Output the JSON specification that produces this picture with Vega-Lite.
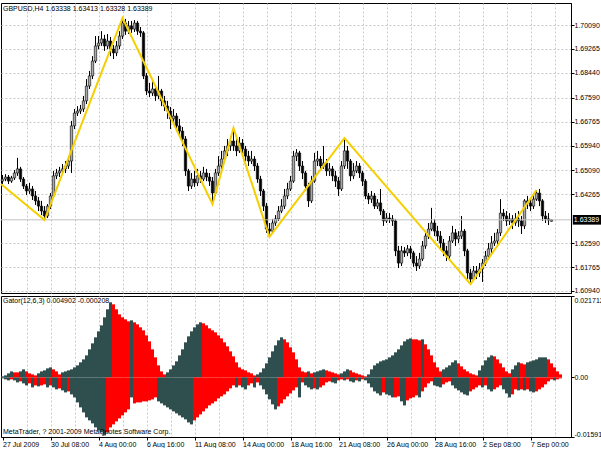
{
"$schema": "https://vega.github.io/schema/vega-lite/v6.json",
"padding": {"left": -4, "top": 2, "right": 0, "bottom": 0},
"background": "white",
"config": {
  "font": "Liberation Sans",
  "axis": {"labelFont": "Liberation Sans", "labelFontSize": 7, "labelColor": "#000", "tickColor": "#000", "domainColor": "#000", "gridColor": "#c8c8c8", "gridDash": [2, 2], "gridWidth": 1, "title": null, "labelOverlap": false},
  "view": {"stroke": "#000", "strokeWidth": 1},
  "concat": {"spacing": 0}
},
"datasets": {
  "candles": [
{"i":0,"o":1.6472,"h":1.6493,"l":1.6462,"c":1.6479},
{"i":1,"o":1.6479,"h":1.6496,"l":1.6472,"c":1.6486},
{"i":2,"o":1.6486,"h":1.6493,"l":1.6462,"c":1.6472},
{"i":3,"o":1.6472,"h":1.6490,"l":1.6466,"c":1.6483},
{"i":4,"o":1.6483,"h":1.6510,"l":1.6476,"c":1.6500},
{"i":5,"o":1.6500,"h":1.6552,"l":1.6490,"c":1.6514},
{"i":6,"o":1.6514,"h":1.6521,"l":1.6469,"c":1.6479},
{"i":7,"o":1.6479,"h":1.6486,"l":1.6445,"c":1.6455},
{"i":8,"o":1.6455,"h":1.6462,"l":1.6424,"c":1.6438},
{"i":9,"o":1.6438,"h":1.6466,"l":1.6428,"c":1.6445},
{"i":10,"o":1.6445,"h":1.6455,"l":1.6407,"c":1.6421},
{"i":11,"o":1.6421,"h":1.6438,"l":1.6390,"c":1.6404},
{"i":12,"o":1.6404,"h":1.6417,"l":1.6369,"c":1.6386},
{"i":13,"o":1.6386,"h":1.6404,"l":1.6355,"c":1.6369},
{"i":14,"o":1.6369,"h":1.6386,"l":1.6338,"c":1.6352},
{"i":15,"o":1.6352,"h":1.6393,"l":1.6345,"c":1.6386},
{"i":16,"o":1.6386,"h":1.6431,"l":1.6376,"c":1.6421},
{"i":17,"o":1.6421,"h":1.6507,"l":1.6414,"c":1.6490},
{"i":18,"o":1.6490,"h":1.6514,"l":1.6479,"c":1.6500},
{"i":19,"o":1.6500,"h":1.6521,"l":1.6486,"c":1.6507},
{"i":20,"o":1.6507,"h":1.6531,"l":1.6496,"c":1.6514},
{"i":21,"o":1.6514,"h":1.6541,"l":1.6500,"c":1.6524},
{"i":22,"o":1.6524,"h":1.6558,"l":1.6514,"c":1.6541},
{"i":23,"o":1.6541,"h":1.6679,"l":1.6500,"c":1.6662},
{"i":24,"o":1.6662,"h":1.6720,"l":1.6651,"c":1.6706},
{"i":25,"o":1.6706,"h":1.6730,"l":1.6696,"c":1.6713},
{"i":26,"o":1.6713,"h":1.6734,"l":1.6703,"c":1.6720},
{"i":27,"o":1.6720,"h":1.6765,"l":1.6710,"c":1.6748},
{"i":28,"o":1.6748,"h":1.6823,"l":1.6737,"c":1.6799},
{"i":29,"o":1.6799,"h":1.6851,"l":1.6789,"c":1.6834},
{"i":30,"o":1.6834,"h":1.6902,"l":1.6823,"c":1.6885},
{"i":31,"o":1.6885,"h":1.6971,"l":1.6878,"c":1.6937},
{"i":32,"o":1.6937,"h":1.6971,"l":1.6926,"c":1.6947},
{"i":33,"o":1.6947,"h":1.6988,"l":1.6937,"c":1.6961},
{"i":34,"o":1.6961,"h":1.6975,"l":1.6920,"c":1.6937},
{"i":35,"o":1.6937,"h":1.6978,"l":1.6926,"c":1.6954},
{"i":36,"o":1.6954,"h":1.6968,"l":1.6902,"c":1.6926},
{"i":37,"o":1.6926,"h":1.6940,"l":1.6892,"c":1.6913},
{"i":38,"o":1.6913,"h":1.6954,"l":1.6902,"c":1.6937},
{"i":39,"o":1.6937,"h":1.6988,"l":1.6926,"c":1.6971},
{"i":40,"o":1.6971,"h":1.7033,"l":1.6961,"c":1.7016},
{"i":41,"o":1.7016,"h":1.7030,"l":1.6975,"c":1.6988},
{"i":42,"o":1.6988,"h":1.7023,"l":1.6978,"c":1.7006},
{"i":43,"o":1.7006,"h":1.7023,"l":1.6982,"c":1.6995},
{"i":44,"o":1.6995,"h":1.7026,"l":1.6985,"c":1.7016},
{"i":45,"o":1.7016,"h":1.7023,"l":1.6975,"c":1.6988},
{"i":46,"o":1.6988,"h":1.7002,"l":1.6968,"c":1.6982},
{"i":47,"o":1.6982,"h":1.6988,"l":1.6823,"c":1.6834},
{"i":48,"o":1.6834,"h":1.6844,"l":1.6768,"c":1.6782},
{"i":49,"o":1.6782,"h":1.6810,"l":1.6761,"c":1.6775},
{"i":50,"o":1.6775,"h":1.6816,"l":1.6765,"c":1.6789},
{"i":51,"o":1.6789,"h":1.6799,"l":1.6748,"c":1.6765},
{"i":52,"o":1.6765,"h":1.6834,"l":1.6754,"c":1.6782},
{"i":53,"o":1.6782,"h":1.6789,"l":1.6730,"c":1.6748},
{"i":54,"o":1.6748,"h":1.6765,"l":1.6713,"c":1.6730},
{"i":55,"o":1.6730,"h":1.6748,"l":1.6686,"c":1.6713},
{"i":56,"o":1.6713,"h":1.6727,"l":1.6651,"c":1.6686},
{"i":57,"o":1.6686,"h":1.6720,"l":1.6672,"c":1.6696},
{"i":58,"o":1.6696,"h":1.6706,"l":1.6644,"c":1.6662},
{"i":59,"o":1.6662,"h":1.6686,"l":1.6627,"c":1.6644},
{"i":60,"o":1.6644,"h":1.6658,"l":1.6593,"c":1.6617},
{"i":61,"o":1.6617,"h":1.6627,"l":1.6490,"c":1.6507},
{"i":62,"o":1.6507,"h":1.6514,"l":1.6438,"c":1.6455},
{"i":63,"o":1.6455,"h":1.6500,"l":1.6445,"c":1.6479},
{"i":64,"o":1.6479,"h":1.6507,"l":1.6452,"c":1.6466},
{"i":65,"o":1.6466,"h":1.6514,"l":1.6455,"c":1.6490},
{"i":66,"o":1.6490,"h":1.6507,"l":1.6466,"c":1.6479},
{"i":67,"o":1.6479,"h":1.6521,"l":1.6472,"c":1.6500},
{"i":68,"o":1.6500,"h":1.6514,"l":1.6472,"c":1.6486},
{"i":69,"o":1.6486,"h":1.6500,"l":1.6455,"c":1.6472},
{"i":70,"o":1.6472,"h":1.6486,"l":1.6393,"c":1.6431},
{"i":71,"o":1.6431,"h":1.6514,"l":1.6421,"c":1.6500},
{"i":72,"o":1.6500,"h":1.6558,"l":1.6490,"c":1.6524},
{"i":73,"o":1.6524,"h":1.6576,"l":1.6514,"c":1.6548},
{"i":74,"o":1.6548,"h":1.6593,"l":1.6534,"c":1.6576},
{"i":75,"o":1.6576,"h":1.6617,"l":1.6558,"c":1.6593},
{"i":76,"o":1.6593,"h":1.6627,"l":1.6576,"c":1.6610},
{"i":77,"o":1.6610,"h":1.6655,"l":1.6576,"c":1.6593},
{"i":78,"o":1.6593,"h":1.6617,"l":1.6558,"c":1.6576},
{"i":79,"o":1.6576,"h":1.6624,"l":1.6569,"c":1.6603},
{"i":80,"o":1.6603,"h":1.6617,"l":1.6569,"c":1.6582},
{"i":81,"o":1.6582,"h":1.6593,"l":1.6541,"c":1.6558},
{"i":82,"o":1.6558,"h":1.6576,"l":1.6524,"c":1.6541},
{"i":83,"o":1.6541,"h":1.6576,"l":1.6531,"c":1.6548},
{"i":84,"o":1.6548,"h":1.6558,"l":1.6507,"c":1.6524},
{"i":85,"o":1.6524,"h":1.6534,"l":1.6466,"c":1.6479},
{"i":86,"o":1.6479,"h":1.6490,"l":1.6421,"c":1.6438},
{"i":87,"o":1.6438,"h":1.6445,"l":1.6369,"c":1.6386},
{"i":88,"o":1.6386,"h":1.6397,"l":1.6294,"c":1.6307},
{"i":89,"o":1.6307,"h":1.6328,"l":1.6280,"c":1.6300},
{"i":90,"o":1.6300,"h":1.6342,"l":1.6294,"c":1.6328},
{"i":91,"o":1.6328,"h":1.6355,"l":1.6318,"c":1.6342},
{"i":92,"o":1.6342,"h":1.6386,"l":1.6335,"c":1.6369},
{"i":93,"o":1.6369,"h":1.6410,"l":1.6362,"c":1.6386},
{"i":94,"o":1.6386,"h":1.6445,"l":1.6376,"c":1.6421},
{"i":95,"o":1.6421,"h":1.6466,"l":1.6410,"c":1.6445},
{"i":96,"o":1.6445,"h":1.6490,"l":1.6438,"c":1.6472},
{"i":97,"o":1.6472,"h":1.6576,"l":1.6466,"c":1.6558},
{"i":98,"o":1.6558,"h":1.6582,"l":1.6541,"c":1.6569},
{"i":99,"o":1.6569,"h":1.6576,"l":1.6507,"c":1.6524},
{"i":100,"o":1.6524,"h":1.6541,"l":1.6479,"c":1.6500},
{"i":101,"o":1.6500,"h":1.6507,"l":1.6438,"c":1.6455},
{"i":102,"o":1.6455,"h":1.6466,"l":1.6383,"c":1.6404},
{"i":103,"o":1.6404,"h":1.6490,"l":1.6397,"c":1.6472},
{"i":104,"o":1.6472,"h":1.6569,"l":1.6466,"c":1.6541},
{"i":105,"o":1.6541,"h":1.6576,"l":1.6524,"c":1.6548},
{"i":106,"o":1.6548,"h":1.6558,"l":1.6507,"c":1.6524},
{"i":107,"o":1.6524,"h":1.6593,"l":1.6514,"c":1.6534},
{"i":108,"o":1.6534,"h":1.6548,"l":1.6490,"c":1.6507},
{"i":109,"o":1.6507,"h":1.6534,"l":1.6490,"c":1.6514},
{"i":110,"o":1.6514,"h":1.6524,"l":1.6472,"c":1.6490},
{"i":111,"o":1.6490,"h":1.6507,"l":1.6452,"c":1.6472},
{"i":112,"o":1.6472,"h":1.6486,"l":1.6421,"c":1.6445},
{"i":113,"o":1.6445,"h":1.6541,"l":1.6438,"c":1.6524},
{"i":114,"o":1.6524,"h":1.6620,"l":1.6514,"c":1.6576},
{"i":115,"o":1.6576,"h":1.6593,"l":1.6514,"c":1.6541},
{"i":116,"o":1.6541,"h":1.6548,"l":1.6472,"c":1.6490},
{"i":117,"o":1.6490,"h":1.6534,"l":1.6479,"c":1.6507},
{"i":118,"o":1.6507,"h":1.6541,"l":1.6500,"c":1.6524},
{"i":119,"o":1.6524,"h":1.6534,"l":1.6483,"c":1.6500},
{"i":120,"o":1.6500,"h":1.6507,"l":1.6455,"c":1.6472},
{"i":121,"o":1.6472,"h":1.6479,"l":1.6410,"c":1.6421},
{"i":122,"o":1.6421,"h":1.6431,"l":1.6393,"c":1.6410},
{"i":123,"o":1.6410,"h":1.6438,"l":1.6397,"c":1.6421},
{"i":124,"o":1.6421,"h":1.6431,"l":1.6376,"c":1.6386},
{"i":125,"o":1.6386,"h":1.6410,"l":1.6376,"c":1.6397},
{"i":126,"o":1.6397,"h":1.6445,"l":1.6355,"c":1.6369},
{"i":127,"o":1.6369,"h":1.6376,"l":1.6318,"c":1.6335},
{"i":128,"o":1.6335,"h":1.6362,"l":1.6328,"c":1.6345},
{"i":129,"o":1.6345,"h":1.6362,"l":1.6328,"c":1.6342},
{"i":130,"o":1.6342,"h":1.6355,"l":1.6318,"c":1.6335},
{"i":131,"o":1.6335,"h":1.6342,"l":1.6214,"c":1.6232},
{"i":132,"o":1.6232,"h":1.6249,"l":1.6173,"c":1.6190},
{"i":133,"o":1.6190,"h":1.6249,"l":1.6180,"c":1.6232},
{"i":134,"o":1.6232,"h":1.6245,"l":1.6211,"c":1.6225},
{"i":135,"o":1.6225,"h":1.6252,"l":1.6214,"c":1.6239},
{"i":136,"o":1.6239,"h":1.6249,"l":1.6204,"c":1.6225},
{"i":137,"o":1.6225,"h":1.6232,"l":1.6177,"c":1.6190},
{"i":138,"o":1.6190,"h":1.6214,"l":1.6163,"c":1.6180},
{"i":139,"o":1.6180,"h":1.6225,"l":1.6170,"c":1.6204},
{"i":140,"o":1.6204,"h":1.6266,"l":1.6197,"c":1.6249},
{"i":141,"o":1.6249,"h":1.6300,"l":1.6239,"c":1.6283},
{"i":142,"o":1.6283,"h":1.6328,"l":1.6273,"c":1.6307},
{"i":143,"o":1.6307,"h":1.6380,"l":1.6300,"c":1.6328},
{"i":144,"o":1.6328,"h":1.6342,"l":1.6283,"c":1.6300},
{"i":145,"o":1.6300,"h":1.6318,"l":1.6266,"c":1.6283},
{"i":146,"o":1.6283,"h":1.6300,"l":1.6239,"c":1.6259},
{"i":147,"o":1.6259,"h":1.6273,"l":1.6214,"c":1.6232},
{"i":148,"o":1.6232,"h":1.6249,"l":1.6197,"c":1.6214},
{"i":149,"o":1.6214,"h":1.6283,"l":1.6204,"c":1.6266},
{"i":150,"o":1.6266,"h":1.6318,"l":1.6259,"c":1.6294},
{"i":151,"o":1.6294,"h":1.6307,"l":1.6249,"c":1.6273},
{"i":152,"o":1.6273,"h":1.6300,"l":1.6259,"c":1.6283},
{"i":153,"o":1.6283,"h":1.6352,"l":1.6273,"c":1.6300},
{"i":154,"o":1.6300,"h":1.6307,"l":1.6214,"c":1.6232},
{"i":155,"o":1.6232,"h":1.6239,"l":1.6135,"c":1.6156},
{"i":156,"o":1.6156,"h":1.6170,"l":1.6118,"c":1.6135},
{"i":157,"o":1.6135,"h":1.6180,"l":1.6128,"c":1.6163},
{"i":158,"o":1.6163,"h":1.6180,"l":1.6135,"c":1.6156},
{"i":159,"o":1.6156,"h":1.6190,"l":1.6142,"c":1.6170},
{"i":160,"o":1.6170,"h":1.6204,"l":1.6125,"c":1.6190},
{"i":161,"o":1.6190,"h":1.6232,"l":1.6180,"c":1.6214},
{"i":162,"o":1.6214,"h":1.6259,"l":1.6204,"c":1.6239},
{"i":163,"o":1.6239,"h":1.6283,"l":1.6225,"c":1.6259},
{"i":164,"o":1.6259,"h":1.6294,"l":1.6249,"c":1.6266},
{"i":165,"o":1.6266,"h":1.6307,"l":1.6249,"c":1.6294},
{"i":166,"o":1.6294,"h":1.6410,"l":1.6283,"c":1.6362},
{"i":167,"o":1.6362,"h":1.6376,"l":1.6335,"c":1.6352},
{"i":168,"o":1.6352,"h":1.6369,"l":1.6318,"c":1.6335},
{"i":169,"o":1.6335,"h":1.6362,"l":1.6321,"c":1.6342},
{"i":170,"o":1.6342,"h":1.6355,"l":1.6307,"c":1.6328},
{"i":171,"o":1.6328,"h":1.6362,"l":1.6318,"c":1.6342},
{"i":172,"o":1.6342,"h":1.6369,"l":1.6314,"c":1.6335},
{"i":173,"o":1.6335,"h":1.6352,"l":1.6290,"c":1.6318},
{"i":174,"o":1.6318,"h":1.6410,"l":1.6307,"c":1.6404},
{"i":175,"o":1.6404,"h":1.6421,"l":1.6376,"c":1.6397},
{"i":176,"o":1.6397,"h":1.6410,"l":1.6369,"c":1.6386},
{"i":177,"o":1.6386,"h":1.6431,"l":1.6376,"c":1.6410},
{"i":178,"o":1.6410,"h":1.6441,"l":1.6404,"c":1.6431},
{"i":179,"o":1.6431,"h":1.6445,"l":1.6386,"c":1.6404},
{"i":180,"o":1.6404,"h":1.6410,"l":1.6335,"c":1.6352},
{"i":181,"o":1.6352,"h":1.6369,"l":1.6328,"c":1.6342},
{"i":182,"o":1.6342,"h":1.6362,"l":1.6321,"c":1.6338},
{"i":183,"o":1.63338,"h":1.63413,"l":1.63328,"c":1.63389}
  ],
  "zigzag": [
{"i":-0.5,"p":1.6462},{"i":14,"p":1.6338},{"i":40,"p":1.7033},{"i":70,"p":1.6393},{"i":77,"p":1.6655},{"i":89,"p":1.6280},{"i":114,"p":1.6620},{"i":156,"p":1.6118},{"i":178,"p":1.6441}
  ],
  "gator": [
{"i":0,"u":0.00027,"uc":"g","d":-0.00027,"dc":"g"},
{"i":1,"u":0.00053,"uc":"g","d":-0.00053,"dc":"g"},
{"i":2,"u":0.00107,"uc":"g","d":-0.0008,"dc":"g"},
{"i":3,"u":0.0016,"uc":"g","d":-0.00053,"dc":"r"},
{"i":4,"u":0.00134,"uc":"r","d":-0.0008,"dc":"g"},
{"i":5,"u":0.00134,"uc":"r","d":-0.00134,"dc":"g"},
{"i":6,"u":0.0016,"uc":"g","d":-0.00107,"dc":"r"},
{"i":7,"u":0.00214,"uc":"g","d":-0.0016,"dc":"g"},
{"i":8,"u":0.0016,"uc":"r","d":-0.00214,"dc":"g"},
{"i":9,"u":0.00107,"uc":"r","d":-0.0016,"dc":"r"},
{"i":10,"u":0.0008,"uc":"r","d":-0.00267,"dc":"g"},
{"i":11,"u":0.00053,"uc":"r","d":-0.00214,"dc":"r"},
{"i":12,"u":0.00107,"uc":"g","d":-0.0024,"dc":"g"},
{"i":13,"u":0.0016,"uc":"g","d":-0.00214,"dc":"r"},
{"i":14,"u":0.00187,"uc":"g","d":-0.00187,"dc":"r"},
{"i":15,"u":0.0024,"uc":"g","d":-0.00267,"dc":"g"},
{"i":16,"u":0.00267,"uc":"g","d":-0.00214,"dc":"r"},
{"i":17,"u":0.00214,"uc":"r","d":-0.00267,"dc":"g"},
{"i":18,"u":0.0016,"uc":"r","d":-0.0032,"dc":"g"},
{"i":19,"u":0.0008,"uc":"r","d":-0.00294,"dc":"r"},
{"i":20,"u":0.00134,"uc":"g","d":-0.00347,"dc":"g"},
{"i":21,"u":0.0016,"uc":"g","d":-0.00401,"dc":"g"},
{"i":22,"u":0.00187,"uc":"g","d":-0.00374,"dc":"r"},
{"i":23,"u":0.00214,"uc":"g","d":-0.00454,"dc":"g"},
{"i":24,"u":0.00267,"uc":"g","d":-0.00534,"dc":"g"},
{"i":25,"u":0.0032,"uc":"g","d":-0.00668,"dc":"g"},
{"i":26,"u":0.00401,"uc":"g","d":-0.00801,"dc":"g"},
{"i":27,"u":0.00481,"uc":"g","d":-0.00935,"dc":"g"},
{"i":28,"u":0.00587,"uc":"g","d":-0.01068,"dc":"g"},
{"i":29,"u":0.00748,"uc":"g","d":-0.01148,"dc":"g"},
{"i":30,"u":0.00908,"uc":"g","d":-0.01228,"dc":"g"},
{"i":31,"u":0.01068,"uc":"g","d":-0.01335,"dc":"g"},
{"i":32,"u":0.01228,"uc":"g","d":-0.01415,"dc":"g"},
{"i":33,"u":0.01388,"uc":"g","d":-0.01469,"dc":"g"},
{"i":34,"u":0.01602,"uc":"g","d":-0.01549,"dc":"g"},
{"i":35,"u":0.01816,"uc":"g","d":-0.01469,"dc":"r"},
{"i":36,"u":0.02003,"uc":"g","d":-0.01335,"dc":"r"},
{"i":37,"u":0.01949,"uc":"r","d":-0.01255,"dc":"r"},
{"i":38,"u":0.01816,"uc":"r","d":-0.01175,"dc":"r"},
{"i":39,"u":0.01682,"uc":"r","d":-0.01095,"dc":"r"},
{"i":40,"u":0.01602,"uc":"r","d":-0.01015,"dc":"r"},
{"i":41,"u":0.01549,"uc":"r","d":-0.00935,"dc":"r"},
{"i":42,"u":0.01495,"uc":"r","d":-0.00854,"dc":"r"},
{"i":43,"u":0.01522,"uc":"g","d":-0.00534,"dc":"g"},
{"i":44,"u":0.01469,"uc":"r","d":-0.00694,"dc":"r"},
{"i":45,"u":0.01415,"uc":"r","d":-0.00668,"dc":"r"},
{"i":46,"u":0.01335,"uc":"r","d":-0.00668,"dc":"r"},
{"i":47,"u":0.01255,"uc":"r","d":-0.00641,"dc":"r"},
{"i":48,"u":0.01121,"uc":"r","d":-0.00641,"dc":"r"},
{"i":49,"u":0.00961,"uc":"r","d":-0.00614,"dc":"r"},
{"i":50,"u":0.00748,"uc":"r","d":-0.00587,"dc":"r"},
{"i":51,"u":0.00534,"uc":"r","d":-0.00534,"dc":"r"},
{"i":52,"u":0.0032,"uc":"r","d":-0.00641,"dc":"g"},
{"i":53,"u":0.0016,"uc":"r","d":-0.00694,"dc":"g"},
{"i":54,"u":0.0008,"uc":"r","d":-0.00748,"dc":"g"},
{"i":55,"u":0.00134,"uc":"g","d":-0.00801,"dc":"g"},
{"i":56,"u":0.00214,"uc":"g","d":-0.00854,"dc":"g"},
{"i":57,"u":0.0032,"uc":"g","d":-0.00908,"dc":"g"},
{"i":58,"u":0.00427,"uc":"g","d":-0.00961,"dc":"g"},
{"i":59,"u":0.00587,"uc":"g","d":-0.01015,"dc":"g"},
{"i":60,"u":0.00748,"uc":"g","d":-0.01068,"dc":"g"},
{"i":61,"u":0.00935,"uc":"g","d":-0.01121,"dc":"g"},
{"i":62,"u":0.01095,"uc":"g","d":-0.01202,"dc":"g"},
{"i":63,"u":0.01228,"uc":"g","d":-0.01255,"dc":"g"},
{"i":64,"u":0.01335,"uc":"g","d":-0.01148,"dc":"r"},
{"i":65,"u":0.01415,"uc":"g","d":-0.01068,"dc":"r"},
{"i":66,"u":0.01469,"uc":"g","d":-0.00988,"dc":"r"},
{"i":67,"u":0.01442,"uc":"r","d":-0.00908,"dc":"r"},
{"i":68,"u":0.01388,"uc":"r","d":-0.00828,"dc":"r"},
{"i":69,"u":0.01308,"uc":"r","d":-0.00748,"dc":"r"},
{"i":70,"u":0.01255,"uc":"r","d":-0.00694,"dc":"r"},
{"i":71,"u":0.01202,"uc":"r","d":-0.00641,"dc":"r"},
{"i":72,"u":0.01121,"uc":"r","d":-0.00561,"dc":"r"},
{"i":73,"u":0.01041,"uc":"r","d":-0.00507,"dc":"r"},
{"i":74,"u":0.00935,"uc":"r","d":-0.00454,"dc":"r"},
{"i":75,"u":0.00828,"uc":"r","d":-0.00374,"dc":"r"},
{"i":76,"u":0.00694,"uc":"r","d":-0.00294,"dc":"r"},
{"i":77,"u":0.00561,"uc":"r","d":-0.00214,"dc":"r"},
{"i":78,"u":0.00401,"uc":"r","d":-0.00267,"dc":"g"},
{"i":79,"u":0.00267,"uc":"r","d":-0.00214,"dc":"r"},
{"i":80,"u":0.00214,"uc":"r","d":-0.00267,"dc":"g"},
{"i":81,"u":0.00187,"uc":"r","d":-0.0032,"dc":"g"},
{"i":82,"u":0.00134,"uc":"r","d":-0.00214,"dc":"r"},
{"i":83,"u":0.00107,"uc":"r","d":-0.0016,"dc":"r"},
{"i":84,"u":0.00053,"uc":"r","d":-0.00267,"dc":"g"},
{"i":85,"u":0.0008,"uc":"g","d":-0.00134,"dc":"r"},
{"i":86,"u":0.00134,"uc":"g","d":-0.00214,"dc":"g"},
{"i":87,"u":0.0024,"uc":"g","d":-0.0032,"dc":"g"},
{"i":88,"u":0.00374,"uc":"g","d":-0.00454,"dc":"g"},
{"i":89,"u":0.00534,"uc":"g","d":-0.00587,"dc":"g"},
{"i":90,"u":0.00694,"uc":"g","d":-0.00721,"dc":"g"},
{"i":91,"u":0.00854,"uc":"g","d":-0.00854,"dc":"g"},
{"i":92,"u":0.00988,"uc":"g","d":-0.00774,"dc":"r"},
{"i":93,"u":0.01068,"uc":"g","d":-0.00694,"dc":"r"},
{"i":94,"u":0.01015,"uc":"r","d":-0.00587,"dc":"r"},
{"i":95,"u":0.00935,"uc":"r","d":-0.00507,"dc":"r"},
{"i":96,"u":0.00801,"uc":"r","d":-0.00427,"dc":"r"},
{"i":97,"u":0.00668,"uc":"r","d":-0.00347,"dc":"r"},
{"i":98,"u":0.00481,"uc":"r","d":-0.00267,"dc":"r"},
{"i":99,"u":0.00267,"uc":"r","d":-0.00534,"dc":"g"},
{"i":100,"u":0.0016,"uc":"r","d":-0.00134,"dc":"r"},
{"i":101,"u":0.00134,"uc":"r","d":-0.00214,"dc":"g"},
{"i":102,"u":0.0016,"uc":"g","d":-0.00267,"dc":"g"},
{"i":103,"u":0.00107,"uc":"r","d":-0.0032,"dc":"g"},
{"i":104,"u":0.00134,"uc":"g","d":-0.00294,"dc":"r"},
{"i":105,"u":0.0016,"uc":"g","d":-0.0032,"dc":"g"},
{"i":106,"u":0.00187,"uc":"g","d":-0.00267,"dc":"r"},
{"i":107,"u":0.00214,"uc":"g","d":-0.00214,"dc":"r"},
{"i":108,"u":0.00187,"uc":"r","d":-0.00134,"dc":"r"},
{"i":109,"u":0.0016,"uc":"r","d":-0.00107,"dc":"r"},
{"i":110,"u":0.00134,"uc":"r","d":-0.00134,"dc":"g"},
{"i":111,"u":0.00107,"uc":"r","d":-0.0016,"dc":"g"},
{"i":112,"u":0.0008,"uc":"r","d":-0.0008,"dc":"r"},
{"i":113,"u":0.00107,"uc":"g","d":-0.00053,"dc":"r"},
{"i":114,"u":0.0016,"uc":"g","d":-0.0008,"dc":"g"},
{"i":115,"u":0.00214,"uc":"g","d":-0.00053,"dc":"r"},
{"i":116,"u":0.00187,"uc":"r","d":-0.00107,"dc":"g"},
{"i":117,"u":0.00134,"uc":"r","d":-0.00134,"dc":"g"},
{"i":118,"u":0.00107,"uc":"r","d":-0.0008,"dc":"r"},
{"i":119,"u":0.0008,"uc":"r","d":-0.00107,"dc":"g"},
{"i":120,"u":0.00053,"uc":"r","d":-0.00053,"dc":"r"},
{"i":121,"u":0.00027,"uc":"r","d":-0.0008,"dc":"g"},
{"i":122,"u":0.0008,"uc":"g","d":-0.0016,"dc":"g"},
{"i":123,"u":0.00214,"uc":"g","d":-0.00267,"dc":"g"},
{"i":124,"u":0.0032,"uc":"g","d":-0.00374,"dc":"g"},
{"i":125,"u":0.00374,"uc":"g","d":-0.00427,"dc":"g"},
{"i":126,"u":0.00427,"uc":"g","d":-0.00481,"dc":"g"},
{"i":127,"u":0.00454,"uc":"g","d":-0.00401,"dc":"r"},
{"i":128,"u":0.00481,"uc":"g","d":-0.00454,"dc":"g"},
{"i":129,"u":0.00534,"uc":"g","d":-0.00481,"dc":"g"},
{"i":130,"u":0.00587,"uc":"g","d":-0.00534,"dc":"g"},
{"i":131,"u":0.00668,"uc":"g","d":-0.00534,"dc":"r"},
{"i":132,"u":0.00748,"uc":"g","d":-0.00507,"dc":"r"},
{"i":133,"u":0.00854,"uc":"g","d":-0.00641,"dc":"g"},
{"i":134,"u":0.00961,"uc":"g","d":-0.00748,"dc":"g"},
{"i":135,"u":0.01015,"uc":"g","d":-0.00614,"dc":"r"},
{"i":136,"u":0.01041,"uc":"g","d":-0.00561,"dc":"r"},
{"i":137,"u":0.01015,"uc":"r","d":-0.00534,"dc":"r"},
{"i":138,"u":0.01015,"uc":"r","d":-0.00481,"dc":"r"},
{"i":139,"u":0.00988,"uc":"r","d":-0.00534,"dc":"g"},
{"i":140,"u":0.01015,"uc":"g","d":-0.00374,"dc":"r"},
{"i":141,"u":0.00881,"uc":"r","d":-0.00267,"dc":"r"},
{"i":142,"u":0.00748,"uc":"r","d":-0.0016,"dc":"r"},
{"i":143,"u":0.00587,"uc":"r","d":-0.00107,"dc":"r"},
{"i":144,"u":0.00401,"uc":"r","d":-0.00214,"dc":"g"},
{"i":145,"u":0.00267,"uc":"r","d":-0.0024,"dc":"g"},
{"i":146,"u":0.0016,"uc":"r","d":-0.00267,"dc":"g"},
{"i":147,"u":0.00214,"uc":"g","d":-0.00187,"dc":"r"},
{"i":148,"u":0.00267,"uc":"g","d":-0.00134,"dc":"r"},
{"i":149,"u":0.0032,"uc":"g","d":-0.00107,"dc":"r"},
{"i":150,"u":0.00401,"uc":"g","d":-0.00214,"dc":"g"},
{"i":151,"u":0.00454,"uc":"g","d":-0.00294,"dc":"g"},
{"i":152,"u":0.00374,"uc":"r","d":-0.00347,"dc":"g"},
{"i":153,"u":0.00294,"uc":"r","d":-0.00401,"dc":"g"},
{"i":154,"u":0.00214,"uc":"r","d":-0.00454,"dc":"g"},
{"i":155,"u":0.0016,"uc":"r","d":-0.00481,"dc":"g"},
{"i":156,"u":0.00107,"uc":"r","d":-0.00374,"dc":"r"},
{"i":157,"u":0.0008,"uc":"r","d":-0.0032,"dc":"r"},
{"i":158,"u":0.00053,"uc":"r","d":-0.00267,"dc":"r"},
{"i":159,"u":0.00187,"uc":"g","d":-0.00214,"dc":"r"},
{"i":160,"u":0.0032,"uc":"g","d":-0.00267,"dc":"g"},
{"i":161,"u":0.00454,"uc":"g","d":-0.00214,"dc":"r"},
{"i":162,"u":0.00534,"uc":"g","d":-0.0032,"dc":"g"},
{"i":163,"u":0.00587,"uc":"g","d":-0.00374,"dc":"g"},
{"i":164,"u":0.00561,"uc":"r","d":-0.0032,"dc":"r"},
{"i":165,"u":0.00481,"uc":"r","d":-0.00267,"dc":"r"},
{"i":166,"u":0.00374,"uc":"r","d":-0.00214,"dc":"r"},
{"i":167,"u":0.00267,"uc":"r","d":-0.0032,"dc":"g"},
{"i":168,"u":0.0016,"uc":"r","d":-0.00427,"dc":"g"},
{"i":169,"u":0.00107,"uc":"r","d":-0.00534,"dc":"g"},
{"i":170,"u":0.00214,"uc":"g","d":-0.00454,"dc":"r"},
{"i":171,"u":0.0032,"uc":"g","d":-0.0032,"dc":"r"},
{"i":172,"u":0.00401,"uc":"g","d":-0.00347,"dc":"g"},
{"i":173,"u":0.00374,"uc":"r","d":-0.0032,"dc":"r"},
{"i":174,"u":0.00347,"uc":"r","d":-0.00347,"dc":"g"},
{"i":175,"u":0.00401,"uc":"g","d":-0.0032,"dc":"r"},
{"i":176,"u":0.00427,"uc":"g","d":-0.00374,"dc":"g"},
{"i":177,"u":0.00454,"uc":"g","d":-0.00401,"dc":"g"},
{"i":178,"u":0.00481,"uc":"g","d":-0.00374,"dc":"r"},
{"i":179,"u":0.00534,"uc":"g","d":-0.0032,"dc":"r"},
{"i":180,"u":0.00534,"uc":"g","d":-0.00267,"dc":"r"},
{"i":181,"u":0.00534,"uc":"g","d":-0.00187,"dc":"r"},
{"i":182,"u":0.00481,"uc":"r","d":-0.00107,"dc":"r"},
{"i":183,"u":0.00374,"uc":"r","d":-0.00053,"dc":"r"},
{"i":184,"u":0.00267,"uc":"r","d":-0.0008,"dc":"g"},
{"i":185,"u":0.0016,"uc":"r","d":-0.00053,"dc":"r"},
{"i":186,"u":0.0008,"uc":"r","d":-0.00027,"dc":"r"}
  ]
},
"vconcat": [
  {
    "width": 570,
    "height": 290,
    "resolve": {"axis": {"y": "independent"}},
    "encoding": {
      "x": {"field": "i", "type": "quantitative",
            "scale": {"domain": [-0.5, 189.5], "nice": false, "zero": false, "padding": 0},
            "axis": {"orient": "bottom", "values": [8,16,24,32,40,48,56,64,72,80,88,96,104,112,120,128,136,144,152,160,168,176,184], "grid": true, "labels": false, "ticks": false, "domain": false, "title": null}}
    },
    "layer": [
      {
        "data": {"name": "candles"},
        "mark": {"type": "rule", "color": "#000", "strokeWidth": 1},
        "encoding": {
          "y": {"field": "l", "type": "quantitative",
                "scale": {"domain": [1.60871, 1.70847], "nice": false, "zero": false},
                "axis": {"orient": "right", "values": [1.7009, 1.69265, 1.6844, 1.6759, 1.66765, 1.6594, 1.6509, 1.64265, 1.6259, 1.61765, 1.6094], "format": ".5f", "grid": true, "tickSize": 3, "labelPadding": 0, "labelOverlap": false, "domain": true, "title": null}},
          "y2": {"field": "h"}
        }
      },
      {
        "data": {"name": "candles"},
        "mark": {"type": "bar", "width": 2.4, "stroke": "#000", "strokeWidth": 0.6},
        "encoding": {
          "y": {"field": "o", "type": "quantitative", "axis": null},
          "y2": {"field": "c"},
          "fill": {"condition": {"test": "datum.c > datum.o", "value": "#a8a8a8"}, "value": "#000"}
        }
      },
      {
        "data": {"values": [{"i": -0.5, "p": 1.63389}, {"i": 189.5, "p": 1.63389}]},
        "mark": {"type": "line", "color": "#c0c0c0", "strokeWidth": 1},
        "encoding": {"y": {"field": "p", "type": "quantitative", "axis": null}}
      },
      {
        "data": {"name": "zigzag"},
        "mark": {"type": "line", "color": "#f5d000", "strokeWidth": 2},
        "encoding": {
          "y": {"field": "p", "type": "quantitative", "axis": null}
        }
      },
      {
        "data": {"values": [{"i": 190.1, "i2": 200, "p1": 1.63555, "p2": 1.63223}]},
        "mark": {"type": "rect", "color": "#000", "clip": false},
        "encoding": {
          "x2": {"field": "i2"},
          "y": {"field": "p1", "type": "quantitative", "axis": null},
          "y2": {"field": "p2"}
        }
      },
      {
        "data": {"values": [{"i": 190.1, "p": 1.63389, "t": "1.63389"}]},
        "mark": {"type": "text", "color": "#fff", "align": "left", "baseline": "middle", "dx": 1, "fontSize": 7, "font": "Liberation Sans"},
        "encoding": {
          "y": {"field": "p", "type": "quantitative", "axis": null},
          "text": {"field": "t"}
        }
      },
      {
        "data": {"values": [{"i": -0.5, "p": 1.7064, "t": "GBPUSD,H4  1.63338 1.63413 1.63328 1.63389"}]},
        "mark": {"type": "text", "color": "#000", "align": "left", "baseline": "middle", "dx": 2, "fontSize": 7, "font": "Liberation Sans"},
        "encoding": {
          "y": {"field": "p", "type": "quantitative", "axis": null},
          "text": {"field": "t"}
        }
      }
    ]
  },
  {
    "width": 570,
    "height": 141,
    "resolve": {"axis": {"x": "independent", "y": "independent"}},
    "layer": [
      {
        "data": {"name": "gator"},
        "mark": {"type": "bar", "width": 3},
        "encoding": {
          "x": {"field": "i", "type": "quantitative",
                "scale": {"domain": [-0.5, 189.5], "nice": false, "zero": false, "padding": 0},
                "axis": {"orient": "bottom", "values": [8,16,24,32,40,48,56,64,72,80,88,96,104,112,120,128,136,144,152,160,168,176,184], "grid": true, "labels": false, "ticks": false, "domain": false, "title": null}},
          "y": {"field": "u", "type": "quantitative",
                "scale": {"domain": [-0.01591, 0.021712], "nice": false, "zero": false},
                "axis": {"orient": "right", "values": [0.021712, 0, -0.01591], "labelExpr": "datum.value > 0.01 ? '0.021712' : (datum.value < -0.01 ? '-0.01591' : '0.00')", "labelBaseline": {"condition": [{"test": "datum.value > 0.01", "value": "top"}, {"test": "datum.value < -0.01", "value": "bottom"}], "value": "middle"}, "grid": false, "tickSize": 3, "labelPadding": 0, "title": null}},
          "color": {"field": "uc", "type": "nominal", "scale": {"domain": ["g", "r"], "range": ["#2f4f4f", "#ff0000"]}, "legend": null}
        }
      },
      {
        "data": {"name": "gator"},
        "mark": {"type": "bar", "width": 3},
        "encoding": {
          "x": {"field": "i", "type": "quantitative",
                "axis": {"orient": "bottom", "values": [0,16,32,48,64,80,96,112,128,144,160,176], "labelExpr": "['27 Jul 2009','30 Jul 08:00','4 Aug 00:00','6 Aug 16:00','11 Aug 08:00','14 Aug 00:00','18 Aug 16:00','21 Aug 08:00','26 Aug 00:00','28 Aug 16:00','2 Sep 08:00','7 Sep 00:00'][round(datum.value/16)]", "labelAlign": "left", "labelOverlap": false, "labelFlush": false, "labelBound": false, "grid": false, "tickSize": 3, "labelPadding": 0, "domain": true, "title": null}},
          "y": {"field": "d", "type": "quantitative", "axis": null},
          "color": {"field": "dc", "type": "nominal", "legend": null}
        }
      },
      {
        "data": {"values": [{"i": -0.5, "v": 0.02038, "t": "Gator(12,6,3) 0.004902 -0.000208"}, {"i": -0.5, "v": -0.01457, "t": "MetaTrader, ? 2001-2009 MetaQuotes Software Corp."}]},
        "mark": {"type": "text", "color": "#000", "align": "left", "baseline": "middle", "dx": 2, "fontSize": 7, "font": "Liberation Sans"},
        "encoding": {
          "x": {"field": "i", "type": "quantitative", "axis": null},
          "y": {"field": "v", "type": "quantitative", "axis": null},
          "text": {"field": "t"}
        }
      }
    ]
  }
]
}
